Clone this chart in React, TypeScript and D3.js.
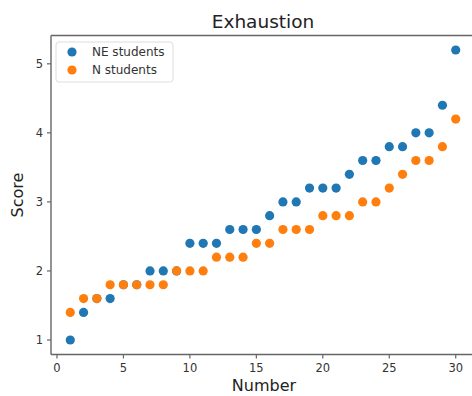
import * as d3 from "d3";

const numbers = d3.range(1, 31);
const neStudents = [
  1.0, 1.4, 1.6, 1.6, 1.8, 1.8, 2.0, 2.0, 2.0, 2.4,
  2.4, 2.4, 2.6, 2.6, 2.6, 2.8, 3.0, 3.0, 3.2, 3.2,
  3.2, 3.4, 3.6, 3.6, 3.8, 3.8, 4.0, 4.0, 4.4, 5.2,
];
const nStudents = [
  1.4, 1.6, 1.6, 1.8, 1.8, 1.8, 1.8, 1.8, 2.0, 2.0,
  2.0, 2.2, 2.2, 2.2, 2.4, 2.4, 2.6, 2.6, 2.6, 2.8,
  2.8, 2.8, 3.0, 3.0, 3.2, 3.4, 3.6, 3.6, 3.8, 4.2,
];
const xTicks = [0, 5, 10, 15, 20, 25, 30];
const yTicks = [1, 2, 3, 4, 5];

const series = [
  { name: "NE students", values: neStudents, color: "#1f77b4" },
  { name: "N students", values: nStudents, color: "#ff7f0e" },
];

const width = 472;
const height = 396;
const font = "DejaVu Sans, sans-serif";

export default function App() {
  const x = d3.scaleLinear().domain([-0.45, 31.45]).range([51, 475]);
  const y = d3.scaleLinear().domain([0.79, 5.41]).range([354.5, 35.5]);
  const [x0] = x.range();
  const [yb, yt] = y.range();
  const axisColor = "#666";
  const textColor = "#333";

  return (
    <svg
      width={width}
      height={height}
      style={{ position: "absolute", left: 0, top: 0, background: "#fff" }}
      fontFamily={font}
    >
      <text x={263} y={28} textAnchor="middle" fontSize={18.5} fill="#222">
        Exhaustion
      </text>

      {/* points */}
      {series.map((s) => (
        <g key={s.name}>
          {s.values.map((v, i) => (
            <circle key={i} cx={x(numbers[i])} cy={y(v)} r={4.6} fill={s.color} />
          ))}
        </g>
      ))}

      {/* spines */}
      <line x1={x0} x2={width} y1={yt} y2={yt} stroke={axisColor} strokeWidth={1.4} />
      <line x1={x0} x2={width} y1={yb} y2={yb} stroke={axisColor} strokeWidth={1.4} />
      <line x1={x0} x2={x0} y1={yt} y2={yb} stroke={axisColor} strokeWidth={1.4} />

      {/* x ticks */}
      {xTicks.map((t) => (
        <g key={t} transform={`translate(${x(t)},${yb})`}>
          <line y2={4} stroke={axisColor} strokeWidth={1.2} />
          <text y={17.5} textAnchor="middle" fontSize={11.5} fill={textColor}>
            {t}
          </text>
        </g>
      ))}

      {/* y ticks */}
      {yTicks.map((t) => (
        <g key={t} transform={`translate(${x0},${y(t)})`}>
          <line x2={-4} stroke={axisColor} strokeWidth={1.2} />
          <text x={-8} dy="0.35em" textAnchor="end" fontSize={11.5} fill={textColor}>
            {t}
          </text>
        </g>
      ))}

      <text x={264} y={391} textAnchor="middle" fontSize={16} fill="#222">
        Number
      </text>
      <text
        transform={`translate(23,${(yt + yb) / 2}) rotate(-90)`}
        textAnchor="middle"
        fontSize={16}
        fill="#222"
      >
        Score
      </text>

      {/* legend */}
      <rect x={56} y={42} width={117} height={40} rx={3} fill="#fff" fillOpacity={0.8} stroke="#ddd" />
      {series.map((s, i) => (
        <g key={s.name} transform={`translate(0,${52 + i * 18})`}>
          <circle cx={72} cy={0} r={4.6} fill={s.color} />
          <text x={92} dy="0.35em" fontSize={12} fill={textColor}>
            {s.name}
          </text>
        </g>
      ))}
    </svg>
  );
}
